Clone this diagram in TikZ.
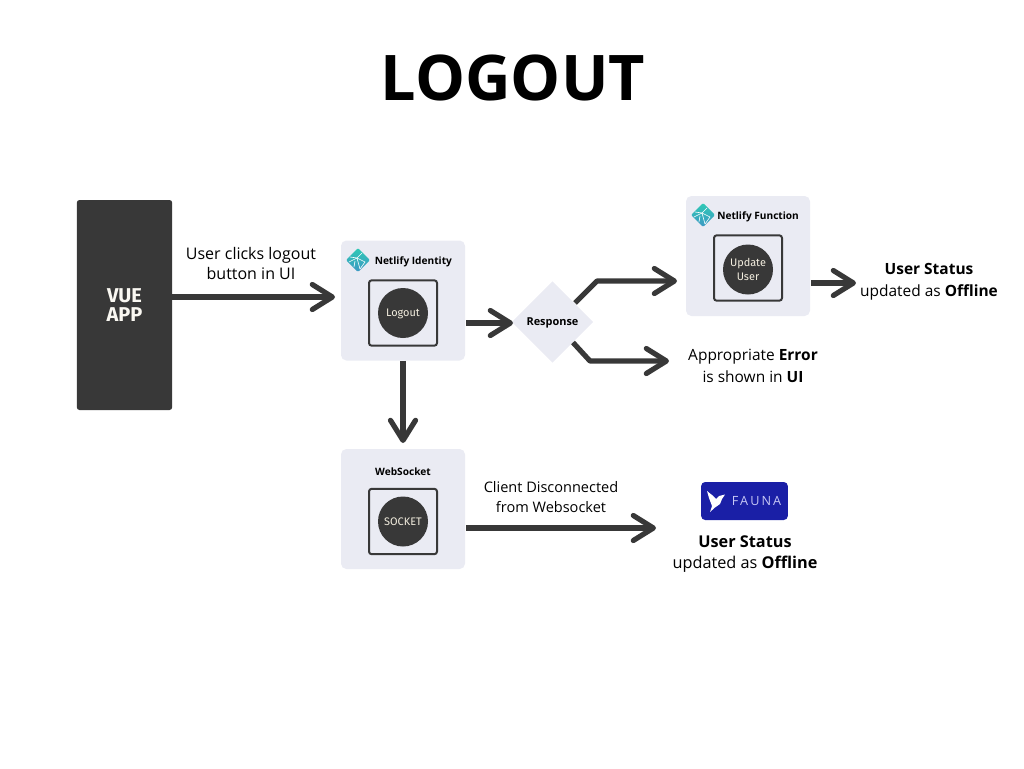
\documentclass[tikz,border=0pt]{standalone}
\usepackage{fontspec}
\setmainfont{Open Sans}
\newfontfamily\fira{Fira Sans}
\usetikzlibrary{arrows.meta, positioning, shapes.geometric}

\definecolor{ink}{HTML}{383838}
\definecolor{panel}{HTML}{EAEBF3}
\definecolor{cream}{HTML}{F3EEDF}
\definecolor{faunablue}{HTML}{1A1FA6}
\definecolor{netlifytop}{HTML}{2FC9B5}
\definecolor{netlifybot}{HTML}{3D98C4}

\tikzset{
  link/.style     = {draw=ink, line width=3.9pt, line join=round, -{Straight Barb[round, length=5.3mm, width=6.6mm, line width=3.9pt]}},
  panelbox/.style = {rectangle, fill=panel, rounded corners=4pt, minimum width=93pt, minimum height=90pt},
  innerbox/.style = {draw=ink, line width=1.5pt, rounded corners=2pt, minimum width=51pt, minimum height=49pt},
  disc/.style     = {circle, fill=ink, text=cream, minimum size=37.5pt, inner sep=0pt, align=center, text depth=-2pt, font=\fira\fontsize{8.2pt}{11pt}\selectfont},
  caption/.style  = {text=black, align=center, inner sep=0pt, font=\fontsize{11.6pt}{16.2pt}\selectfont},
  small/.style    = {text=black, inner sep=0pt, font=\bfseries\fontsize{7.6pt}{9pt}\selectfont},
}

\newcommand{\netlifylogo}[1]{
  \begin{scope}[shift={(#1)}]
    \shade [top color=netlifytop, bottom color=netlifybot, rounded corners=1pt] (-12,0) -- (0,-12) -- (12,0) -- (0,12) -- cycle;
    \draw [white, line width=0.45pt] (-8,-3) -- (-1,-2) -- (4,-7);
    \draw [white, line width=0.45pt] (-1,-2) -- (7,2) -- (2,9);
    \draw [white, line width=0.45pt] (-9,2) -- (-1,-2) -- (2,9);
    \draw [white, line width=0.45pt] (-4,7) -- (-3,1);
  \end{scope}
}

\begin{document}
\begin{tikzpicture}[x=0.75pt, y=-0.75pt]

\useasboundingbox (0,0) rectangle (1024,768);

\node [font=\bfseries\fontsize{47.2pt}{55pt}\selectfont, inner sep=0pt] (title) at (513,78) {LOGOUT};

\node [rectangle, fill=ink, rounded corners=2pt, minimum width=71.5pt, minimum height=157.5pt, text=cream!40!white, align=center,
       font=\fira\bfseries\fontsize{15pt}{14.5pt}\selectfont] (vue) at (124.5,305) {VUE\\APP};
\node [caption, font=\fontsize{12pt}{15.6pt}\selectfont] (clicks) at (251,263.5) {User clicks logout\\button in UI};

\node [panelbox] (identity) at (403,300.5) {};
\node [innerbox] (logoutbox) at (403,313) {};
\node [disc]     (logout) at (403,313) {Logout};
\node [small, anchor=west] (identitylabel) at (374.5,261.5) {Netlify Identity};
\netlifylogo{358,260}

\node [diamond, aspect=1, fill=panel, minimum size=61pt, inner sep=0pt, text depth=-2.5pt, font=\bfseries\fontsize{8.2pt}{10pt}\selectfont] (response) at (552.5,322) {Response};

\node [panelbox] (function) at (748,256) {};
\node [innerbox] (updatebox) at (748,268) {};
\node [disc]     (update) at (748,269.5) {Update\\User};
\node [small, anchor=west] (functionlabel) at (717,216.5) {Netlify Function};
\netlifylogo{703,215}

\node [caption] (offline1) at (929,282) {\textbf{User Status}\\updated as \textbf{Offline}};
\node [caption] (error) at (753,366) {Appropriate \textbf{Error}\\is shown in \textbf{UI}};

\node [panelbox] (websocket) at (403,509) {};
\node [innerbox] (socketbox) at (403,521.5) {};
\node [disc, text depth=-1pt] (socket) at (403,521.5) {SOCKET};
\node [small] (websocketlabel) at (403,472) {WebSocket};

\node [caption, font=\fontsize{10.9pt}{15pt}\selectfont] (client) at (551,497) {Client Disconnected\\from Websocket};

\node [rectangle, fill=faunablue, rounded corners=3pt, minimum width=65pt, minimum height=28.5pt] (fauna) at (744.5,501) {};
\node [text=panel!85!blue, inner sep=0pt, font=\fontsize{9.5pt}{11pt}\selectfont\addfontfeature{LetterSpace=16}] (faunaname) at (756.5,501) {FAUNA};
\fill [white] (707,491) -- (712,495) -- (716,499) -- (719,496) -- (725,494.5) -- (722,499) -- (720,504) -- (715,507.5) -- (710,512) -- (712,506) -- (709,498) -- cycle;

\node [caption, font=\fontsize{12.2pt}{16.4pt}\selectfont] (offline2) at (745,554) {\textbf{User Status}\\updated as \textbf{Offline}};

\coordinate (vueout) at (172,297);
\coordinate (vuein)  at (335,297);
\coordinate (upout)  at (575,303);
\coordinate (bendup) at (597,281);
\coordinate (uptip)  at (677,281);
\coordinate (benddn) at (590,361);
\coordinate (dntip)  at (669,361);
\coordinate (idout)  at (466,323);
\coordinate (idtip)  at (513,323);
\coordinate (fnout)  at (811,283);
\coordinate (fntip)  at (856,283);
\coordinate (wstip)  at (403,443);
\coordinate (sockout) at (466,528);
\coordinate (socktip) at (656,528);

\draw [link] (vueout) -- (vuein);
\draw [link] (idout) -- (idtip);
\draw [link] (upout) -- (bendup) -- (uptip);
\draw [link] (response.south east) -- (benddn) -- (dntip);
\draw [link] (fnout) -- (fntip);
\draw [link] (identity.south) -- (wstip);
\draw [link] (sockout) -- (socktip);

\end{tikzpicture}
\end{document}
